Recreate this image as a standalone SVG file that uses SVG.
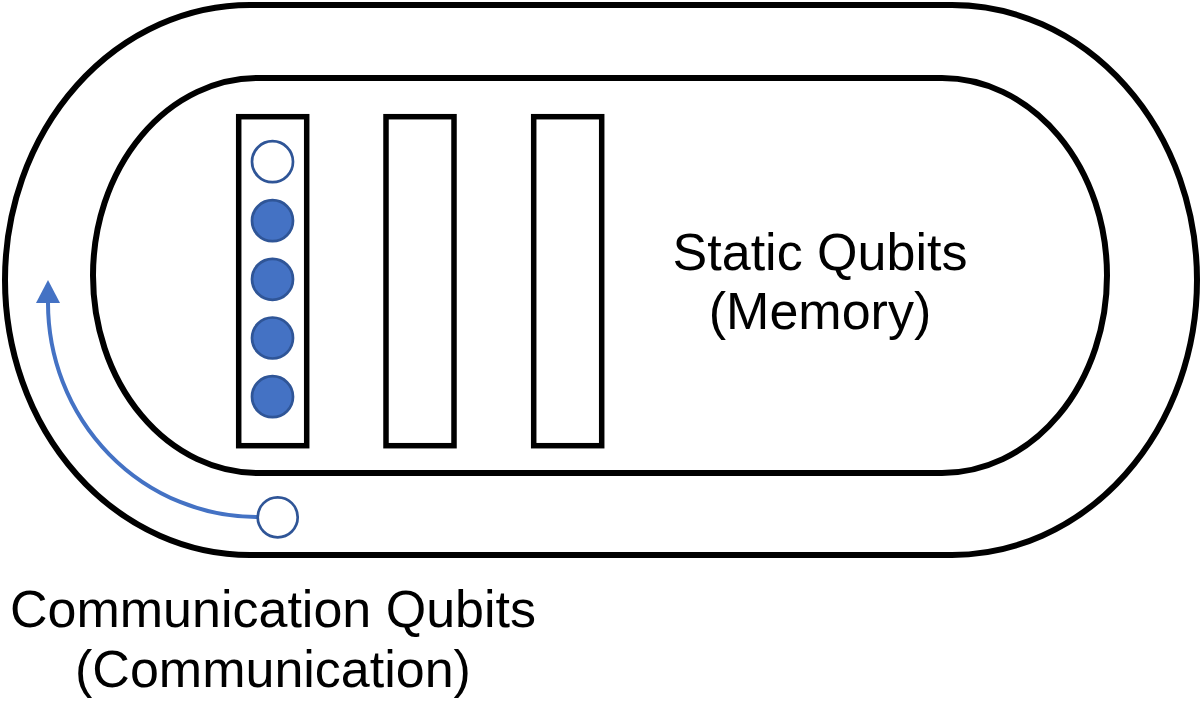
<svg xmlns="http://www.w3.org/2000/svg" width="1201" height="708" viewBox="0 0 1201 708">
<style>
.ring{fill:none;stroke:#000;stroke-width:6}
.slot{fill:#fff;stroke:#000;stroke-width:5.5}
.q{stroke:#2F5597;stroke-width:2.7}
.qe{fill:#fff}
.qf{fill:#4472C4}
.lbl{font-family:"Liberation Sans",Arial,sans-serif;font-size:52px;fill:#000;text-anchor:middle}
.conn{fill:none;stroke:#4472C4;stroke-width:4}
</style>
<defs>
<marker id="ah" markerUnits="userSpaceOnUse" markerWidth="24" markerHeight="26" refX="0" refY="12" orient="auto">
<path d="M0,0 L23,12 L0,24 z" fill="#4472C4"/>
</marker>
</defs>
<rect width="1201" height="708" fill="#fff"/>
<g id="outer-trap">
<rect class="ring" x="5" y="5" width="1192" height="550" rx="245" ry="275"/>
</g>
<g id="inner-trap">
<rect class="ring" x="93" y="78" width="1014" height="395" rx="165" ry="197.5"/>
</g>
<g id="slot-1">
<rect class="slot" x="238.7" y="116.7" width="68" height="329"/>
<circle class="q qe" cx="272.5" cy="161.7" r="20.5"/>
<circle class="q qf" cx="272.5" cy="220.7" r="20.5"/>
<circle class="q qf" cx="272.5" cy="279.3" r="20.5"/>
<circle class="q qf" cx="272.5" cy="338" r="20.5"/>
<circle class="q qf" cx="272.5" cy="396.7" r="20.5"/>
</g>
<g id="slot-2">
<rect class="slot" x="386" y="116.7" width="68" height="329"/>
</g>
<g id="slot-3">
<rect class="slot" x="533.7" y="116.7" width="68" height="329"/>
</g>
<g id="connectors">
<path class="conn" d="M257,517 A209,214 0 0 1 48,303" marker-end="url(#ah)"/>
</g>
<g id="comm-qubit">
<circle class="q qe" cx="277.7" cy="517.3" r="20"/>
</g>
<g id="static-label">
<text class="lbl" x="820" y="270">Static Qubits</text>
<text class="lbl" x="820" y="329">(Memory)</text>
</g>
<g id="comm-label">
<text class="lbl" x="273" y="627">Communication Qubits</text>
<text class="lbl" x="273" y="687">(Communication)</text>
</g>
</svg>
